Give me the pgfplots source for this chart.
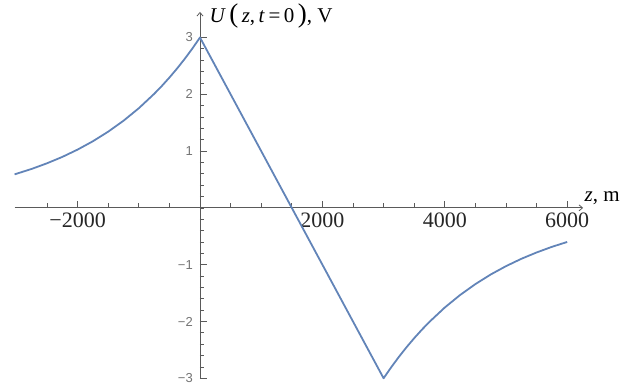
\documentclass[border=0pt]{standalone}
\usepackage{fontspec}
\setmainfont{Liberation Serif}
\newfontfamily\sansfont{Liberation Sans}
\usepackage{pgfplots}
\pgfplotsset{compat=1.18}
\usetikzlibrary{arrows.meta}
\definecolor{curve}{RGB}{98,132,184}
\definecolor{axisgray}{RGB}{90,90,90}

\begin{document}
\begin{tikzpicture}
\begin{axis}[
  x=0.0612pt, y=56.8pt,
  axis lines=middle,
  xmin=-3030, xmax=6260, ymin=-3, ymax=3.45,
  clip=false,
  axis line style={axisgray, line width=0.8pt, -{Straight Barb[length=3.5pt,width=6pt]}},
  tick align=inside,
  tick style={axisgray, line width=0.7pt},
  major tick length=7pt,
  minor tick length=4.5pt,
  xtick={-2000,2000,4000,6000},
  xticklabels={−2000,2000,4000,6000},
  minor xtick={-2500,-2000,...,6000},
  ytick={-3,-2,-1,1,2,3},
  yticklabels={−3,−2,−1,1,2,3},
  minor ytick={-2.8,-2.6,...,2.9},
  x tick label style={font=\fontsize{22}{22}\selectfont, text=black!85, inner sep=1pt, yshift=-4pt},
  y tick label style={font=\sansfont\fontsize{13}{13}\selectfont, text=black!55, inner sep=1pt, xshift=-6pt},
  xlabel={\textit{z}, m},
  ylabel={\textit{U}\,{\fontsize{27}{27}\selectfont(}\,\textit{z},\,\textit{t}\,=\,0\,{\fontsize{27}{27}\selectfont)}, V},
  every axis x label/.style={at={(axis cs:6260,0)}, anchor=base west, xshift=-2pt, yshift=6pt, font=\fontsize{21}{21}\selectfont},
  every axis y label/.style={at={(axis cs:0,3.45)}, anchor=west, xshift=6pt, yshift=-4pt, font=\fontsize{21}{21}\selectfont},
]
% overall canvas of the figure
\path (axis cs:-3268,-3.116) rectangle (axis cs:7157,3.66);

% exponential rise for z < 0
\addplot[curve, line width=1.8pt, line join=round] coordinates {
  (-3030,0.590) (-2750,0.686) (-2500,0.785) (-2250,0.897) (-2000,1.026)
  (-1750,1.173) (-1500,1.342) (-1250,1.534) (-1000,1.754) (-750,2.006)
  (-625,2.145) (-500,2.294) (-375,2.453) (-250,2.623) (-125,2.805) (0,3.000)
  % linear drop between the two kinks
  (3000,-3.000)
  % exponential recovery for z > 3000
  (3125,-2.805) (3250,-2.623) (3375,-2.453) (3500,-2.294) (3625,-2.145)
  (3750,-2.006) (4000,-1.754) (4250,-1.534)
  (4500,-1.342) (4750,-1.173) (5000,-1.026) (5250,-0.897) (5500,-0.785)
  (5750,-0.686) (6000,-0.600)
};
\end{axis}
\end{tikzpicture}
\end{document}
